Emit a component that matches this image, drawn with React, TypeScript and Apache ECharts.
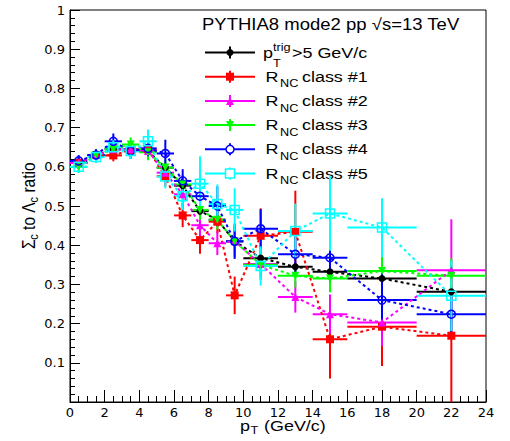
import React, { useEffect, useRef } from 'react';
import * as echarts from 'echarts';

// ---- data ----
const xCenters = [0.5, 1.5, 2.5, 3.5, 4.5, 5.5, 6.5, 7.5, 8.5, 9.5, 11, 13, 15, 18, 22];
const xHalfWidths = [0.5, 0.5, 0.5, 0.5, 0.5, 0.5, 0.5, 0.5, 0.5, 0.5, 1, 1, 1, 2, 2];

const trigValues = [0.61, 0.63, 0.645, 0.645, 0.64, 0.598, 0.552, 0.487, 0.465, 0.41, 0.367, 0.345, 0.332, 0.315, 0.281];
const trigErrors = [0.008, 0.008, 0.008, 0.008, 0.009, 0.01, 0.01, 0.012, 0.012, 0.012, 0.01, 0.01, 0.012, 0.012, 0.014];

const class1Values = [0.61, 0.63, 0.629, 0.643, 0.645, 0.576, 0.476, 0.413, 0.46, 0.272, 0.424, 0.434, 0.16, 0.192, 0.169];
const class1Errors = [0.015, 0.015, 0.015, 0.018, 0.02, 0.025, 0.03, 0.035, 0.03, 0.048, 0.07, 0.105, 0.1, 0.1, 0.17];

const class2Values = [0.61, 0.63, 0.645, 0.645, 0.64, 0.585, 0.53, 0.451, 0.405, 0.41, 0.352, 0.268, 0.224, 0.203, 0.336];
const class2Errors = [0.015, 0.015, 0.015, 0.018, 0.02, 0.025, 0.03, 0.03, 0.03, 0.04, 0.04, 0.04, 0.05, 0.06, 0.13];

const class3Values = [0.6, 0.63, 0.645, 0.657, 0.637, 0.598, 0.555, 0.49, 0.465, 0.41, 0.35, 0.322, 0.315, 0.334, 0.322];
const class3Errors = [0.015, 0.015, 0.015, 0.018, 0.02, 0.02, 0.025, 0.025, 0.025, 0.03, 0.03, 0.03, 0.035, 0.04, 0.045];

const class4Values = [0.615, 0.63, 0.665, 0.64, 0.647, 0.634, 0.564, 0.525, 0.5, 0.41, 0.442, 0.377, 0.368, 0.26, 0.224];
const class4Errors = [0.015, 0.015, 0.02, 0.02, 0.02, 0.035, 0.03, 0.035, 0.05, 0.045, 0.05, 0.05, 0.06, 0.07, 0.06];

const class5Values = [0.6, 0.625, 0.65, 0.64, 0.665, 0.575, 0.525, 0.557, 0.505, 0.49, 0.347, 0.436, 0.481, 0.445, 0.271];
const class5Errors = [0.015, 0.015, 0.018, 0.02, 0.03, 0.03, 0.035, 0.07, 0.05, 0.055, 0.05, 0.07, 0.095, 0.075, 0.09];

const classLabels = ['class #1', 'class #2', 'class #3', 'class #4', 'class #5'];
const titleText = 'PYTHIA8 mode2 pp √s=13 TeV';

const LATIN = 'Liberation Sans';
const TICKFONT = 'DejaVu Sans';
const SX = 1.157;

type Sty = { color: string; symbol: string; size: number; rotate?: number; filled: boolean; name: string };

const seriesSpecs: { values: number[]; errors: number[]; sty: Sty }[] = [
  { values: trigValues, errors: trigErrors, sty: { name: 'trig', color: '#000000', symbol: 'circle', size: 7, filled: true } },
  { values: class1Values, errors: class1Errors, sty: { name: 'c1', color: '#ff0000', symbol: 'rect', size: 8, filled: true } },
  { values: class2Values, errors: class2Errors, sty: { name: 'c2', color: '#ff00ff', symbol: 'triangle', size: 8, filled: true } },
  { values: class3Values, errors: class3Errors, sty: { name: 'c3', color: '#00ff00', symbol: 'triangle', size: 8, rotate: 180, filled: true } },
  { values: class4Values, errors: class4Errors, sty: { name: 'c4', color: '#0000ff', symbol: 'circle', size: 8, filled: false } },
  { values: class5Values, errors: class5Errors, sty: { name: 'c5', color: '#00ffff', symbol: 'rect', size: 9, filled: false } },
];

function legendMarker(sty: Sty, cx: number, cy: number): any {
  const s = sty.size;
  const fill = sty.filled ? sty.color : '#ffffff';
  const stroke = sty.color;
  const lw = sty.filled ? 0 : 1.5;
  if (sty.symbol === 'circle') {
    return { type: 'circle', shape: { cx, cy, r: s / 2 }, style: { fill, stroke, lineWidth: lw } };
  }
  if (sty.symbol === 'rect') {
    return { type: 'rect', shape: { x: cx - s / 2, y: cy - s / 2, width: s, height: s }, style: { fill, stroke, lineWidth: lw } };
  }
  const h = s / 2;
  const pts = sty.rotate
    ? [[cx - h, cy - h], [cx + h, cy - h], [cx, cy + h]]
    : [[cx - h, cy + h], [cx + h, cy + h], [cx, cy - h]];
  return { type: 'polygon', shape: { points: pts }, style: { fill, stroke, lineWidth: lw } };
}

function txt(x: number, y: number, text: string, size: number, extra: any = {}): any {
  return {
    type: 'text',
    x,
    y,
    scaleX: SX,
    style: { text, fill: '#000', fontFamily: LATIN, fontSize: size, align: 'left', verticalAlign: 'middle' },
    ...extra,
  };
}

export default function App() {
  const ref = useRef<HTMLDivElement>(null);

  useEffect(() => {
    const chart = echarts.init(ref.current!, null, { renderer: 'svg' });

    const series: any[] = [];
    seriesSpecs.forEach((spec, k) => {
      const color = spec.sty.color;
      series.push({
        type: 'custom',
        silent: true,
        clip: true,
        data: xCenters.map((x, i) => [x, spec.values[i], xHalfWidths[i], spec.errors[i]]),
        encode: { x: 0, y: 1 },
        renderItem: (params: any, api: any) => {
          const x = api.value(0);
          const y = api.value(1);
          const ex = api.value(2);
          const ey = api.value(3);
          const cs = params.coordSys;
          const bottom = cs.y + cs.height;
          const top = cs.y;
          const a = api.coord([x - ex, y]);
          const b = api.coord([x + ex, y]);
          const c = api.coord([x, y - ey]);
          const d = api.coord([x, y + ey]);
          return {
            type: 'group',
            children: [
              { type: 'line', shape: { x1: a[0], y1: a[1], x2: b[0], y2: b[1] }, style: { stroke: color, lineWidth: 2 } },
              {
                type: 'line',
                shape: { x1: c[0], y1: Math.min(c[1], bottom), x2: d[0], y2: Math.max(d[1], top) },
                style: { stroke: color, lineWidth: 2 },
              },
            ],
          };
        },
      });
      series.push({
        type: 'line',
        name: spec.sty.name,
        silent: true,
        data: xCenters.map((x, i) => [x, spec.values[i]]),
        symbol: spec.sty.symbol,
        symbolSize: spec.sty.size,
        symbolRotate: spec.sty.rotate || 0,
        itemStyle: spec.sty.filled
          ? { color, borderWidth: 0 }
          : { color: 'rgba(255,255,255,0)', borderColor: color, borderWidth: 1.5 },
        lineStyle: { color, width: 2, type: [3, 3] },
      });
    });

    // legend graphics
    const legendEls: any[] = [];
    const rowY = (i: number) => 52.5 + 24.2 * i;
    seriesSpecs.forEach((spec, i) => {
      const y = rowY(i);
      legendEls.push({ type: 'line', shape: { x1: 205, y1: y, x2: 255, y2: y }, style: { stroke: spec.sty.color, lineWidth: 2 } });
      legendEls.push({ type: 'line', shape: { x1: 230, y1: y - 6, x2: 230, y2: y + 6 }, style: { stroke: spec.sty.color, lineWidth: 2 } });
      legendEls.push(legendMarker(spec.sty, 230, y));
    });
    // row 0 text
    legendEls.push(txt(263, rowY(0), 'p', 15.5));
    legendEls.push(txt(273, rowY(0) - 5, 'trig', 11));
    legendEls.push(txt(273, rowY(0) + 11, 'T', 11));
    legendEls.push(txt(292, rowY(0), '>5 GeV/c', 15.5));
    classLabels.forEach((lab, j) => {
      const y = rowY(j + 1);
      legendEls.push(txt(265.5, y, 'R', 15.5));
      legendEls.push(txt(280, y + 7, 'NC', 11));
      legendEls.push(txt(302, y, lab, 15.5));
    });
    // title
    legendEls.push(txt(202, 24.5, titleText, 16));

    // x axis title
    const xTitle = [txt(240, 425.5, 'p', 15.5), txt(250.5, 430, 'T', 11), txt(264, 425.5, '(GeV/c)', 15.5)];

    // y axis title (rotated)
    const yTitle = {
      type: 'group',
      x: 29,
      y: 249,
      rotation: Math.PI / 2,
      scaleY: SX,
      children: [
        { type: 'text', x: 0, y: 0, style: { text: 'Σ', fill: '#000', fontFamily: LATIN, fontSize: 15.5, verticalAlign: 'middle' } },
        { type: 'text', x: 9.3, y: 4.5, style: { text: 'c', fill: '#000', fontFamily: LATIN, fontSize: 11, verticalAlign: 'middle' } },
        { type: 'text', x: 19.1, y: 0, style: { text: 'to', fill: '#000', fontFamily: LATIN, fontSize: 15.5, verticalAlign: 'middle' } },
        { type: 'text', x: 36.3, y: 0, style: { text: 'Λ', fill: '#000', fontFamily: LATIN, fontSize: 15.5, verticalAlign: 'middle' } },
        { type: 'text', x: 46.6, y: 4.5, style: { text: 'c', fill: '#000', fontFamily: LATIN, fontSize: 11, verticalAlign: 'middle' } },
        { type: 'text', x: 56.4, y: 0, style: { text: 'ratio', fill: '#000', fontFamily: LATIN, fontSize: 15.5, verticalAlign: 'middle' } },
      ],
    };

    const option: any = {
      animation: false,
      backgroundColor: '#ffffff',
      grid: { left: 70, top: 10, width: 416, height: 392, show: true, borderColor: '#000', borderWidth: 1, backgroundColor: 'transparent' },
      xAxis: {
        type: 'value',
        min: 0,
        max: 24,
        interval: 2,
        axisLine: { show: true, onZero: false, lineStyle: { color: '#000', width: 1 } },
        axisTick: { show: true, inside: true, length: 12, lineStyle: { color: '#000', width: 1 } },
        minorTick: { show: true, splitNumber: 4, length: 6, lineStyle: { color: '#000', width: 1 } },
        axisLabel: { color: '#000', fontFamily: TICKFONT, fontSize: 13, margin: 4, showMaxLabel: true, showMinLabel: true },
        splitLine: { show: false },
        minorSplitLine: { show: false },
      },
      yAxis: {
        type: 'value',
        min: 0,
        max: 1,
        interval: 0.1,
        axisLine: { show: true, onZero: false, lineStyle: { color: '#000', width: 1 } },
        axisTick: { show: true, inside: true, length: 10, lineStyle: { color: '#000', width: 1 } },
        minorTick: { show: true, splitNumber: 5, length: 5, lineStyle: { color: '#000', width: 1 } },
        axisLabel: {
          color: '#000',
          fontFamily: TICKFONT,
          fontSize: 13,
          margin: 5,
          formatter: (v: number) => (v < 1e-6 ? '' : Math.abs(v - 1) < 1e-6 ? '1' : v.toFixed(1)),
        },
        splitLine: { show: false },
      },
      graphic: [...legendEls, ...xTitle, yTitle],
      series,
    };

    chart.setOption(option);
    return () => chart.dispose();
  }, []);

  return <div ref={ref} style={{ position: 'fixed', left: 0, top: 0, width: 510, height: 441, background: '#fff' }} />;
}
